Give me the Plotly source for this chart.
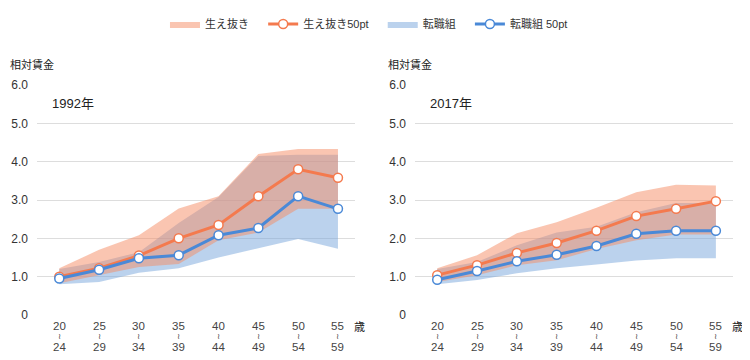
import plotly.graph_objects as go

cats = ["20-24", "25-29", "30-34", "35-39", "40-44", "45-49", "50-54", "55-59"]
tick_top = ["20", "25", "30", "35", "40", "45", "50", "55"]
tick_bottom = ["24", "29", "34", "39", "44", "49", "54", "59"]
ytick_vals = [0, 1, 2, 3, 4, 5, 6]
ytick_text = ["0", "1.0", "2.0", "3.0", "4.0", "5.0", "6.0"]

# 1992
hae_50_1992 = [1.0, 1.22, 1.55, 2.0, 2.35, 3.1, 3.8, 3.58]
hae_hi_1992 = [1.22, 1.7, 2.08, 2.78, 3.1, 4.2, 4.33, 4.33]
hae_lo_1992 = [0.83, 1.04, 1.25, 1.33, 1.95, 2.15, 2.77, 2.77]
ten_50_1992 = [0.95, 1.18, 1.48, 1.56, 2.08, 2.27, 3.1, 2.77]
ten_hi_1992 = [1.2, 1.38, 1.64, 2.4, 3.08, 4.15, 4.18, 4.18]
ten_lo_1992 = [0.8, 0.86, 1.1, 1.22, 1.5, 1.75, 1.98, 1.73]

# 2017
hae_50_2017 = [1.04, 1.3, 1.62, 1.88, 2.2, 2.58, 2.77, 2.97]
hae_hi_2017 = [1.22, 1.56, 2.13, 2.42, 2.8, 3.2, 3.4, 3.38]
hae_lo_2017 = [0.86, 1.04, 1.3, 1.43, 1.72, 1.95, 2.1, 2.1]
ten_50_2017 = [0.92, 1.15, 1.4, 1.57, 1.8, 2.12, 2.2, 2.2]
ten_hi_2017 = [1.2, 1.38, 1.82, 2.15, 2.3, 2.68, 2.92, 2.92]
ten_lo_2017 = [0.8, 0.91, 1.09, 1.22, 1.32, 1.42, 1.48, 1.48]

ORANGE = "#f47a4e"
BLUE = "#4a89d7"
ORANGE_FILL = "rgba(246,140,100,0.5)"
BLUE_FILL = "rgba(120,165,220,0.5)"

FONT = "Liberation Sans, DejaVu Sans, Noto Sans CJK JP"
PAD = "\u00a0\u00a0\u00a0"

fig = go.Figure()

panels = [
    ("x", "y", hae_50_1992, hae_hi_1992, hae_lo_1992, ten_50_1992, ten_hi_1992, ten_lo_1992, True),
    ("x2", "y2", hae_50_2017, hae_hi_2017, hae_lo_2017, ten_50_2017, ten_hi_2017, ten_lo_2017, False),
]

for xa, ya, h50, hhi, hlo, t50, thi, tlo, show in panels:
    fig.add_trace(go.Scatter(x=cats, y=tlo, xaxis=xa, yaxis=ya, mode="lines",
                             line=dict(width=0, color=BLUE_FILL), showlegend=False,
                             hoverinfo="skip"))
    fig.add_trace(go.Scatter(x=cats, y=thi, xaxis=xa, yaxis=ya, mode="lines",
                             line=dict(width=0, color=BLUE_FILL), fill="tonexty",
                             fillcolor=BLUE_FILL, name="転職組" + PAD, showlegend=show,
                             legendrank=3))
    fig.add_trace(go.Scatter(x=cats, y=hlo, xaxis=xa, yaxis=ya, mode="lines",
                             line=dict(width=0, color=ORANGE_FILL), showlegend=False,
                             hoverinfo="skip"))
    fig.add_trace(go.Scatter(x=cats, y=hhi, xaxis=xa, yaxis=ya, mode="lines",
                             line=dict(width=0, color=ORANGE_FILL), fill="tonexty",
                             fillcolor=ORANGE_FILL, name="生え抜き" + PAD, showlegend=show,
                             legendrank=1))
    fig.add_trace(go.Scatter(x=cats, y=h50, xaxis=xa, yaxis=ya, mode="lines+markers",
                             line=dict(width=3, color=ORANGE),
                             marker=dict(size=9, color="white", line=dict(width=1.5, color=ORANGE)),
                             name="生え抜き50pt" + PAD, showlegend=show, legendrank=2))
    fig.add_trace(go.Scatter(x=cats, y=t50, xaxis=xa, yaxis=ya, mode="lines+markers",
                             line=dict(width=3, color=BLUE),
                             marker=dict(size=9, color="white", line=dict(width=1.5, color=BLUE)),
                             name="転職組 50pt", showlegend=show, legendrank=4))

xcommon = dict(type="category", range=[-0.56, 7.43], showgrid=False, zeroline=False,
               showline=False, ticks="", showticklabels=False,
               automargin=False, fixedrange=True)
ycommon = dict(range=[0, 6.0], tickvals=ytick_vals, ticktext=ytick_text, showgrid=True,
               gridcolor="#dddddd", gridwidth=1, zeroline=False, showline=False, ticks="",
               tickfont=dict(size=12, color="#333", family=FONT), automargin=False,
               ticklabelstandoff=8, fixedrange=True)

fig.update_layout(
    width=742, height=352,
    margin=dict(l=29, r=17, t=77, b=45, autoexpand=False),
    paper_bgcolor="white", plot_bgcolor="white",
    font=dict(family=FONT, color="#333"),
    xaxis=dict(domain=[0, 0.457], anchor="y", **xcommon),
    yaxis=dict(anchor="x", **ycommon),
    xaxis2=dict(domain=[0.543, 1], anchor="y2", **xcommon),
    yaxis2=dict(anchor="x2", **ycommon),
    legend=dict(orientation="h", x=0.477, xanchor="center", y=1.265, yanchor="middle",
                font=dict(size=11, color="#333", family=FONT), traceorder="normal",
                itemwidth=30),
    showlegend=True,
)

ann = []
for xa, xd, yd, label in [("x", "x domain", "y domain", "1992年"),
                          ("x2", "x2 domain", "y2 domain", "2017年")]:
    ann.append(dict(xref=xd, yref=yd, x=0.04, y=0.92, text=label, showarrow=False,
                    xanchor="left", yanchor="middle", font=dict(size=13, color="#222")))
    ann.append(dict(xref=xd, yref=yd, x=-0.09, y=1.087, text="相対賃金", showarrow=False,
                    xanchor="left", yanchor="middle", font=dict(size=11, color="#222")))
    ann.append(dict(xref=xd, yref=yd, x=1.0, y=-0.05, xshift=-3, text="歳", showarrow=False,
                    xanchor="left", yanchor="middle", font=dict(size=11, color="#222")))
    for c, top, bot in zip(cats, tick_top, tick_bottom):
        ann.append(dict(xref=xa, yref=yd, x=c, y=0, yshift=-11, text=top, showarrow=False,
                        xanchor="center", yanchor="middle", font=dict(size=11.5, color="#444")))
        ann.append(dict(xref=xa, yref=yd, x=c, y=0, yshift=-21, text="≀", showarrow=False,
                        xanchor="center", yanchor="middle", font=dict(size=8, color="#444")))
        ann.append(dict(xref=xa, yref=yd, x=c, y=0, yshift=-32, text=bot, showarrow=False,
                        xanchor="center", yanchor="middle", font=dict(size=11.5, color="#444")))
fig.update_layout(annotations=ann)

fig.write_html("out.html")
